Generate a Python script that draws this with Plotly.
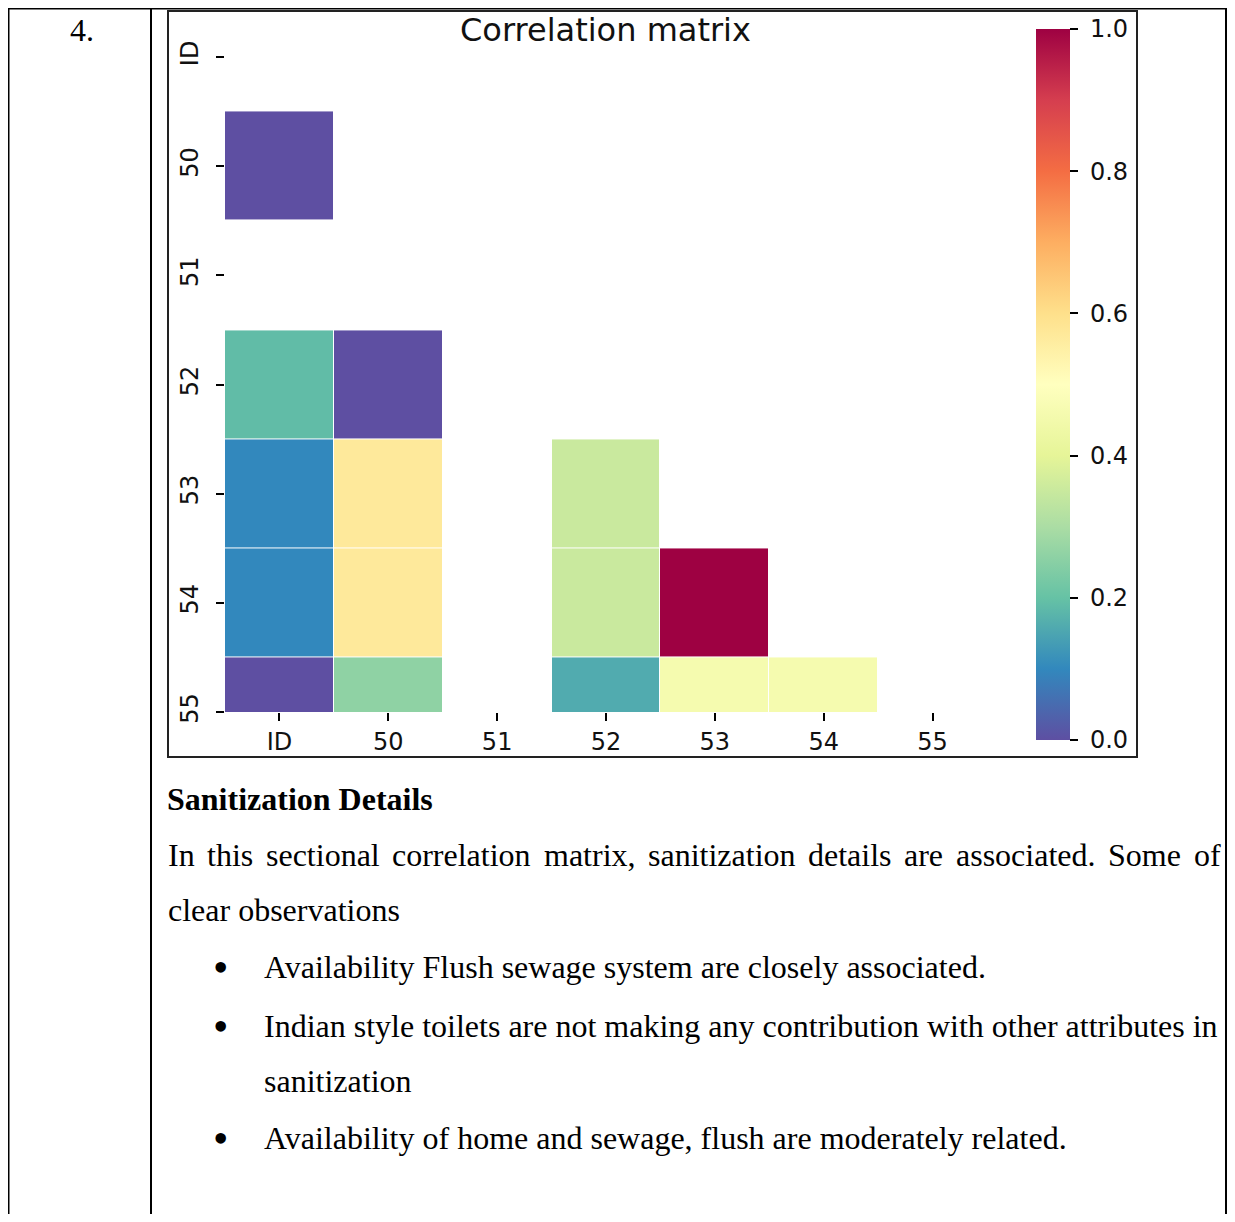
import plotly.graph_objects as go

# page offset (browser body margin) compensation
OFF = 8
W, H = 1235 - OFF, 1222 - 2 * OFF

# ---- data ----
labels = ["ID", "50", "51", "52", "53", "54", "55"]
row_ID = [None, None, None, None, None, None, None]
row_50 = [0.0, None, None, None, None, None, None]
row_51 = [None, None, None, None, None, None, None]
row_52 = [0.19, 0.0, None, None, None, None, None]
row_53 = [0.10, 0.57, None, 0.35, None, None, None]
row_54 = [0.10, 0.57, None, 0.35, 1.0, None, None]
row_55 = [0.0, 0.26, None, 0.16, 0.46, 0.46, None]
z = [row_ID, row_50, row_51, row_52, row_53, row_54, row_55]

cbar_ticks = [0.0, 0.2, 0.4, 0.6, 0.8, 1.0]
cbar_ticktext = ["\u00a00.0", "\u00a00.2", "\u00a00.4", "\u00a00.6", "\u00a00.8", "\u00a01.0"]

spectral = ['#9e0142', '#d53e4f', '#f46d43', '#fdae61', '#fee08b', '#ffffbf',
            '#e6f598', '#abdda4', '#66c2a5', '#3288bd', '#5e4fa2']
spectral_r = spectral[::-1]
colorscale = [[i / 10, c] for i, c in enumerate(spectral_r)]


def px(x):
    return (x - OFF) / W


def py(y):
    return 1 - (y - OFF) / H


fig = go.Figure()
fig.add_trace(go.Heatmap(
    z=z, x=labels, y=labels, zmin=0, zmax=1, colorscale=colorscale,
    xgap=1, ygap=1, hoverongaps=False,
    colorbar=dict(
        thickness=34, lenmode="pixels", len=711,
        x=px(1036), xanchor="left", xpad=0,
        y=py(29), yanchor="top", ypad=0,
        outlinewidth=0,
        tickvals=cbar_ticks, ticktext=cbar_ticktext,
        ticks="outside", ticklen=8, tickwidth=2, tickcolor="black",
        tickfont=dict(family="DejaVu Sans", size=24, color="#111"),
    ),
))

fig.update_xaxes(
    type="category", domain=[px(225), px(987)], range=[-0.5, 6.5],
    showgrid=False, zeroline=False, showline=False, automargin=False,
    ticks="outside", ticklen=8, tickwidth=2, tickcolor="black",
    tickfont=dict(family="DejaVu Sans", size=24, color="#111"),
)
fig.update_yaxes(
    type="category", domain=[py(712), py(57)], range=[6, 0],
    showgrid=False, zeroline=False, showline=False, automargin=False,
    ticks="outside", ticklen=8, tickwidth=2, tickcolor="black",
    tickangle=-90, ticklabelstandoff=8,
    tickfont=dict(family="DejaVu Sans", size=24, color="#111"),
)

shapes = []
lw = 2
# table lines
shapes.append(dict(type="line", xref="paper", yref="paper", x0=px(7), x1=px(1227), y0=py(8.5), y1=py(8.5),
                   line=dict(color="black", width=lw)))
for xv in [8.5, 151, 1226]:
    shapes.append(dict(type="line", xref="paper", yref="paper", x0=px(xv), x1=px(xv), y0=py(7.5), y1=0,
                       line=dict(color="black", width=lw)))
# chart frame
shapes.append(dict(type="rect", xref="paper", yref="paper", x0=px(168), x1=px(1137), y0=py(757), y1=py(11),
                   line=dict(color="#222", width=2)))

serif = "Liberation Serif"
ann = []
ann.append(dict(text="4.", x=px(82), y=py(30), xanchor="center", yanchor="middle",
                font=dict(family=serif, size=32, color="black")))
ann.append(dict(text="Correlation matrix", x=px(605), y=py(30), xanchor="center", yanchor="middle",
                font=dict(family="DejaVu Sans", size=32, color="#111")))
ann.append(dict(text="<b>Sanitization Details</b>", x=px(165), y=py(799), xanchor="left", yanchor="middle",
                font=dict(family=serif, size=32, color="black")))

line1 = ["In", "this", "sectional", "correlation", "matrix,", "sanitization", "details",
         "are", "associated.", "Some", "of"]
line1_x = [166, 205.3, 264.1, 390.4, 541.6, 645.8, 806.0, 902.2, 953.9, 1106.0, 1191.5]
for wtxt, xv in zip(line1, line1_x):
    ann.append(dict(text=wtxt, x=px(xv), y=py(855), xanchor="left", yanchor="middle",
                    font=dict(family=serif, size=32, color="black")))
ann.append(dict(text="clear observations", x=px(166), y=py(910), xanchor="left", yanchor="middle",
                font=dict(family=serif, size=32, color="black")))

bullets = [
    ("Availability Flush sewage system are closely associated.", 967),
    ("Indian style toilets are not making any contribution with other attributes in", 1026),
    ("Availability of home and sewage, flush are moderately related.", 1138),
]
for txt, yv in bullets:
    ann.append(dict(text="•", x=px(220), y=py(yv), xanchor="center", yanchor="middle",
                    font=dict(family=serif, size=44, color="black")))
    ann.append(dict(text=txt, x=px(262), y=py(yv), xanchor="left", yanchor="middle",
                    font=dict(family=serif, size=32, color="black")))
ann.append(dict(text="sanitization", x=px(262), y=py(1081), xanchor="left", yanchor="middle",
                font=dict(family=serif, size=32, color="black")))

for a in ann:
    a.update(xref="paper", yref="paper", showarrow=False)

fig.update_layout(
    width=W, height=H, autosize=False,
    margin=dict(l=0, r=0, t=0, b=0, pad=0, autoexpand=False),
    paper_bgcolor="white", plot_bgcolor="white",
    shapes=shapes, annotations=ann, showlegend=False,
)

fig.write_html("out.html")
